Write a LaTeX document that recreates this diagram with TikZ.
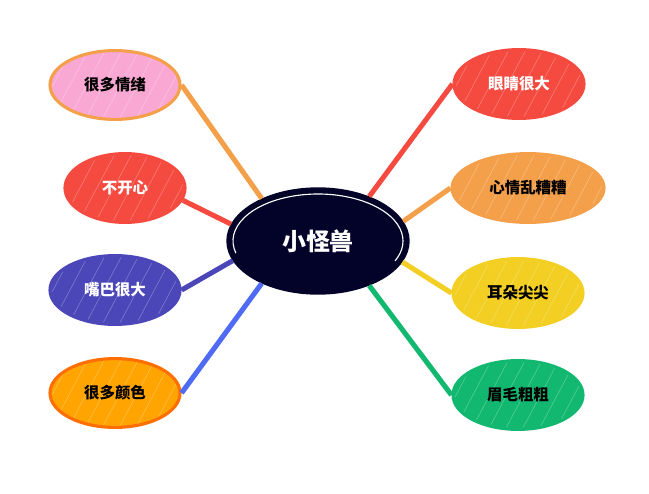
\documentclass[tikz,border=0pt]{standalone}
\usepackage{fontspec}
\newfontfamily\cjk{Noto Sans CJK SC}
\usetikzlibrary{shapes.geometric}
\usetikzlibrary{positioning}

\definecolor{navy}{HTML}{03032A}
\definecolor{pinkf}{HTML}{F9A8D4}
\definecolor{orng}{HTML}{F4A04A}
\definecolor{redf}{HTML}{F44A40}
\definecolor{purp}{HTML}{4B47B8}
\definecolor{ambr}{HTML}{FFA400}
\definecolor{ambrd}{HTML}{FF6E00}
\definecolor{blueln}{HTML}{4F6BF5}
\definecolor{yell}{HTML}{F2CF22}
\definecolor{grn}{HTML}{12B870}

\begin{document}
\begin{tikzpicture}[x=0.025cm, y=-0.025cm,
		every edge/.style = {draw, line width=3.6pt},
		leaf/.style args = {#1/#2}{%
		ellipse, draw=#2, fill=#1, line width=2.2pt,
		minimum width=3.25cm, minimum height=1.72cm, inner sep=0pt,
		font=\cjk\bfseries\fontsize{11}{13}\selectfont,
		path picture={
			\foreach \s in {-60,-48,...,72}
			\draw[white, opacity=0.3, line width=0.4pt]
			([xshift=\s pt, yshift=-30pt]path picture bounding box.center) -- ++(62:70pt);
		}}
                    ]
		\useasboundingbox (0,0) rectangle (649,493);

		% centre
		\node(mon) [ellipse, fill=navy, draw=navy, line width=2.4pt,
			minimum width=4.5cm, minimum height=2.6cm,
			text=white, font=\cjk\bfseries\fontsize{17}{20}\selectfont] at (318,241) {小怪兽};
		\draw[white, line width=0.8pt] ([shift={(165:85 and 47)}]mon.center)
			arc [start angle=165, end angle=385, x radius=85, y radius=47];

		% left side
		\node(emo)  [leaf=pinkf/orng] at (115,85) {很多情绪};
		\node(sad)  [leaf=redf/redf, minimum width=3cm, text=white] at (125,188) {不开心};
		\node(mou)  [leaf=purp/purp, text=white] at (115,290) {嘴巴很大};
		\node(col)  [leaf=ambr/ambrd] at (115,393) {很多颜色};

		% right side
		\node(eye)  [leaf=redf/redf, text=white] at (519,84) {眼睛很大};
		\node(mood) [leaf=orng/orng, minimum width=3.8cm] at (528,188) {心情乱糟糟};
		\node(ear)  [leaf=yell/yell] at (518,293) {耳朵尖尖};
		\node(brw)  [leaf=grn/grn] at (518,395) {眉毛粗粗};

		\path   (emo.east)  edge [color=orng]   (mon.143)
        		(sad.-12)   edge [color=redf]   (mon.169)
        		(mou.east)  edge [color=purp]   (mon.193)
        		(col.east)  edge [color=blueln] (mon.217)
        		(eye.west)  edge [color=redf]   (mon.41)
        		(mood.west) edge [color=orng]   (mon.13)
        		(ear.west)  edge [color=yell]   (mon.-14)
        		(brw.west)  edge [color=grn]    (mon.-41);
	\end{tikzpicture}
\end{document}
